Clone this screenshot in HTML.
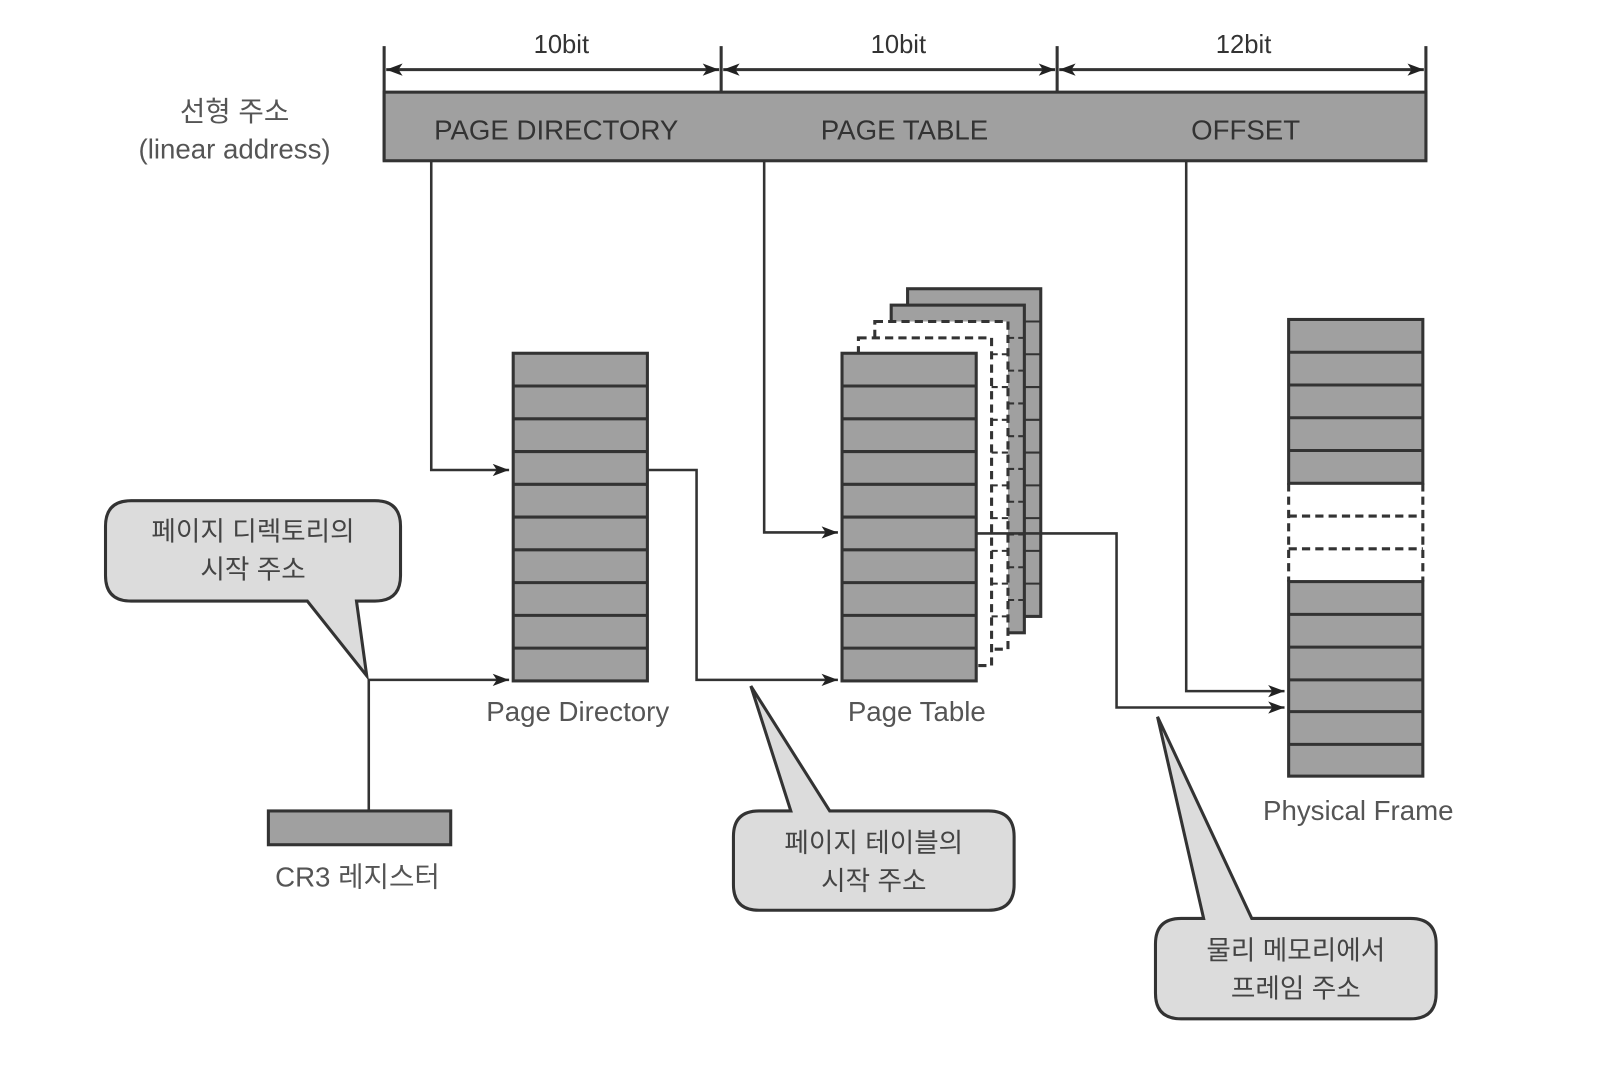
<!DOCTYPE html>
<html><head><meta charset="utf-8"><style>html,body{margin:0;padding:0;background:#fff}svg{display:block}</style></head>
<body>
<svg width="1598" height="1070" viewBox="0 0 1560 1045" preserveAspectRatio="none" xmlns="http://www.w3.org/2000/svg" font-family="Liberation Sans, Noto Sans CJK KR, sans-serif">
<defs>
<marker id="a" viewBox="0 0 10 10" refX="10" refY="5" markerWidth="5" markerHeight="5" orient="auto-start-reverse" markerUnits="userSpaceOnUse"><path d="M0,0 L10,5 L0,10 z" fill="#222"/></marker>
<marker id="b" viewBox="0 0 16 12" refX="16" refY="6" markerWidth="16" markerHeight="12" orient="auto-start-reverse" markerUnits="userSpaceOnUse"><path d="M0,0 L16,6 L0,12 L4,6 z" fill="#222"/></marker>
</defs>
<g stroke="#333" stroke-width="3" fill="none">
<!-- dims -->
<line x1="375" y1="45" x2="375" y2="157"/><line x1="704" y1="45" x2="704" y2="157"/><line x1="1032" y1="45" x2="1032" y2="157"/><line x1="1392" y1="45" x2="1392" y2="157"/>
<line x1="377" y1="68" x2="702" y2="68" marker-start="url(#b)" marker-end="url(#b)"/>
<line x1="706" y1="68" x2="1030" y2="68" marker-start="url(#b)" marker-end="url(#b)"/>
<line x1="1034" y1="68" x2="1390" y2="68" marker-start="url(#b)" marker-end="url(#b)"/>
<rect x="375" y="90" width="1017" height="67" fill="#a0a0a0"/>
</g>
<g font-size="25" fill="#333" text-anchor="middle">
<text x="548" y="52">10bit</text><text x="877" y="52">10bit</text><text x="1214" y="52">12bit</text>
<text x="543" y="136" font-size="27">PAGE DIRECTORY</text><text x="883" y="136" font-size="27">PAGE TABLE</text><text x="1216" y="136" font-size="27">OFFSET</text>
</g>
<g font-size="27" fill="#555" text-anchor="middle">
<text x="229" y="118">선형 주소</text><text x="229" y="155">(linear address)</text>
<text x="564" y="704">Page Directory</text><text x="895" y="704">Page Table</text>
<text x="1326" y="801">Physical Frame</text><text x="349" y="866">CR3 레지스터</text>
</g>
<g stroke="#333" stroke-width="3">
<!-- page table stack back layers -->
<rect x="886" y="282" width="130" height="320" fill="#a0a0a0"/>
<rect x="870" y="298" width="130" height="320" fill="#a0a0a0"/>
<rect x="854" y="314" width="130" height="320" fill="#fff" stroke-dasharray="8,5"/>
<rect x="838" y="330" width="130" height="320" fill="#fff" stroke-dasharray="8,5"/>
<g stroke-width="2">
<path d="M1000 314h16M1000 346h16M1000 378h16M1000 410h16M1000 442h16M1000 474h16M1000 506h16M1000 538h16M1000 570h16"/>
<path d="M984 330h16M984 362h16M984 394h16M984 426h16M984 458h16M984 490h16M984 522h16M984 554h16M984 586h16" stroke-dasharray="6,4"/>
<path d="M968 346h16M968 378h16M968 410h16M968 442h16M968 474h16M968 506h16M968 538h16M968 570h16M968 602h16" stroke-dasharray="6,4"/>
</g>
<!-- page table front -->
<rect x="822" y="345" width="131" height="320" fill="#a0a0a0"/>
<path d="M822 377h131M822 409h131M822 441h131M822 473h131M822 505h131M822 537h131M822 569h131M822 601h131M822 633h131"/>
<!-- page directory -->
<rect x="501" y="345" width="131" height="320" fill="#a0a0a0"/>
<path d="M501 377h131M501 409h131M501 441h131M501 473h131M501 505h131M501 537h131M501 569h131M501 601h131M501 633h131"/>
<!-- physical frame -->
<rect x="1258" y="312" width="131" height="160" fill="#a0a0a0"/>
<path d="M1258 344h131M1258 376h131M1258 408h131M1258 440h131"/>
<path d="M1258 472v96M1389 472v96M1258 504h131M1258 536h131" stroke-dasharray="8,5" fill="none"/>
<rect x="1258" y="568" width="131" height="190" fill="#a0a0a0"/>
<path d="M1258 600h131M1258 632h131M1258 664h131M1258 695h131M1258 727h131"/>
<!-- CR3 -->
<rect x="262" y="792" width="178" height="33" fill="#a0a0a0"/>
</g>
<g stroke="#333" stroke-width="2.5" fill="none">
<polyline points="421,157 421,459 497,459" marker-end="url(#b)"/>
<polyline points="746,157 746,520 818,520" marker-end="url(#b)"/>
<polyline points="1158,157 1158,675 1254,675" marker-end="url(#b)"/>
<polyline points="360,792 360,664 497,664" marker-end="url(#b)"/>
<polyline points="632,459 680,459 680,664 818,664" marker-end="url(#b)"/>
<polyline points="953,521 1090,521 1090,691 1254,691" marker-end="url(#b)"/>
</g>
<!-- callouts -->
<g stroke="#333" stroke-width="3" fill="#dcdcdc">
<path d="M128,489 H366 Q391,489 391,514 V562 Q391,587 366,587 H348 L358,660 L300,587 H128 Q103,587 103,562 V514 Q103,489 128,489 Z"/>
<path d="M741,792 H772 L733,670 L810,792 H965 Q990,792 990,817 V864 Q990,889 965,889 H741 Q716,889 716,864 V817 Q716,792 741,792 Z"/>
<path d="M1153,897 H1175 L1130,700 L1222,897 H1377 Q1402,897 1402,922 V970 Q1402,995 1377,995 H1153 Q1128,995 1128,970 V922 Q1128,897 1153,897 Z"/>
</g>
<g font-size="26" fill="#444" text-anchor="middle">
<text x="247" y="528">페이지 디렉토리의</text><text x="247" y="565">시작 주소</text>
<text x="853" y="832">페이지 테이블의</text><text x="853" y="869">시작 주소</text>
<text x="1265" y="937">물리 메모리에서</text><text x="1265" y="974">프레임 주소</text>
</g>
</svg>
</body></html>
